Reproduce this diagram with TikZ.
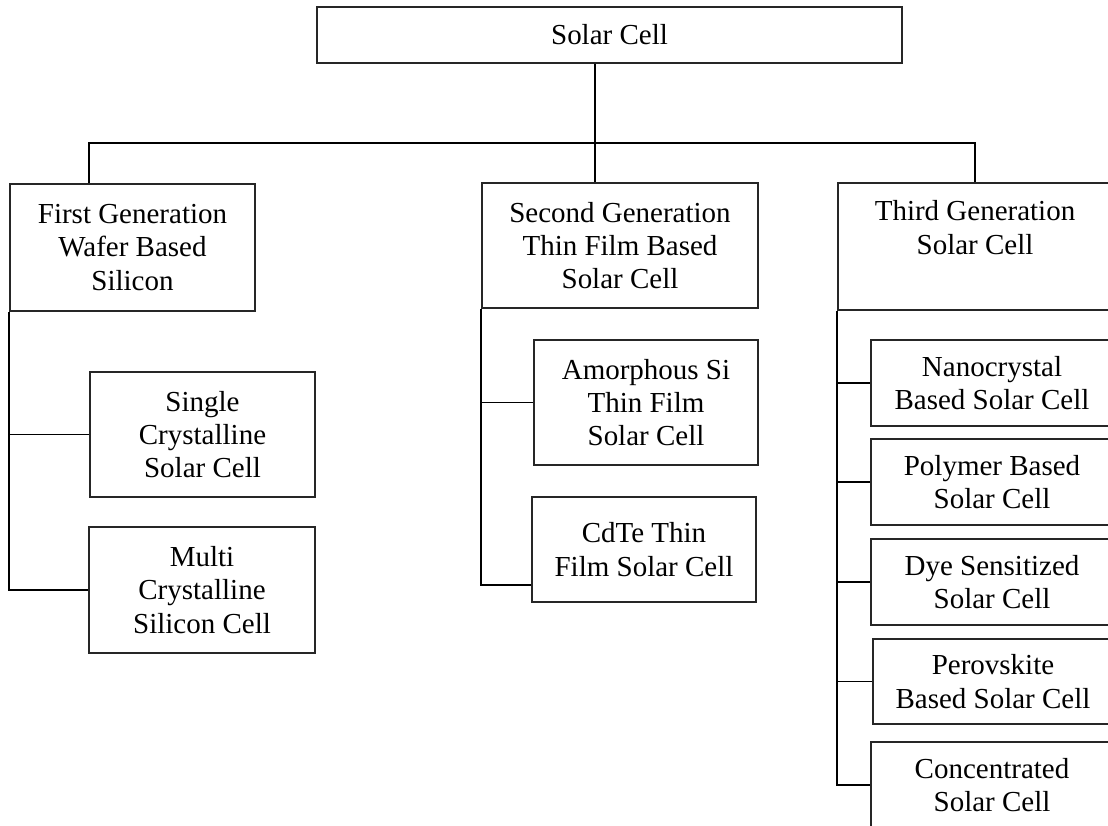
\documentclass[tikz,border=0pt]{standalone}
\usepackage{fontspec}
\setmainfont{Liberation Serif}
\usetikzlibrary{positioning}

\begin{document}
\begin{tikzpicture}[x=0.02cm, y=-0.02cm,
        box/.style={draw=black!85, line width=1pt, rectangle, inner sep=0pt, align=center,
            font=\fontsize{16.5}{19}\selectfont},
        link/.style={draw=black, line width=1pt}]
        \useasboundingbox (0,0) rectangle (1108,825);
        \clip (0,0) rectangle (1108,825);

        \node[box, minimum width=11.7cm, minimum height=1.12cm] (root) at (609.5, 35) {Solar Cell};

        \node[box, minimum width=4.9cm, minimum height=2.54cm] (gen1) at (132.5, 247.5) {First Generation\\Wafer Based\\Silicon};
        \node[box, minimum width=5.52cm, minimum height=2.5cm] (gen2) at (620, 245.5) {Second Generation\\Thin Film Based\\Solar Cell};
        \node[box, minimum width=5.48cm, anchor=north, inner ysep=0.36cm, text depth=0.76cm] (gen3) at (975, 182) {Third Generation\\Solar Cell};

        \node[box, minimum width=4.5cm, minimum height=2.5cm] (single) at (202.5, 434.5) {Single\\Crystalline\\Solar Cell};
        \node[box, minimum width=4.52cm, minimum height=2.52cm] (multi) at (202, 590) {Multi\\Crystalline\\Silicon Cell};

        \node[box, minimum width=4.48cm, minimum height=2.5cm] (amorph) at (646, 402.5) {Amorphous Si\\Thin Film\\Solar Cell};
        \node[box, minimum width=4.48cm, minimum height=2.1cm] (cdte) at (644, 549.5) {CdTe Thin\\Film Solar Cell};

        \node[box, minimum width=4.84cm, minimum height=1.72cm] (nano) at (992, 383) {Nanocrystal\\Based Solar Cell};
        \node[box, minimum width=4.84cm, minimum height=1.72cm] (poly) at (992, 482) {Polymer Based\\Solar Cell};
        \node[box, minimum width=4.84cm, minimum height=1.72cm] (dye) at (992, 582) {Dye Sensitized\\Solar Cell};
        \node[box, minimum width=4.8cm, minimum height=1.7cm] (perov) at (993, 681.5) {Perovskite\\Based Solar Cell};
        \node[box, minimum width=4.84cm, minimum height=1.72cm] (conc) at (992, 785) {Concentrated\\Solar Cell};

        % tree trunk and bus
        \coordinate (j) at (595, 143);
        \draw[link] ([xshift=-0.29cm]root.south) -- (j);
        \draw[link] ([xshift=1.6cm]gen1.north west) |- (j) -| (gen3.north);
        \draw[link] (j) -- (gen2.north -| j);

        % branches
        \draw[link] (gen1.south west) |- (single.west);
        \draw[link] (gen1.south west) |- (multi.west);

        \coordinate (cdtein) at ([yshift=-0.71cm]cdte.west);
        \draw[link] (gen2.south west) |- (amorph.west);
        \draw[link] (gen2.south west) |- (cdtein);

        \foreach \n in {nano, poly, dye, perov, conc}
            \draw[link] (gen3.south west) |- (\n.west);
\end{tikzpicture}
\end{document}
